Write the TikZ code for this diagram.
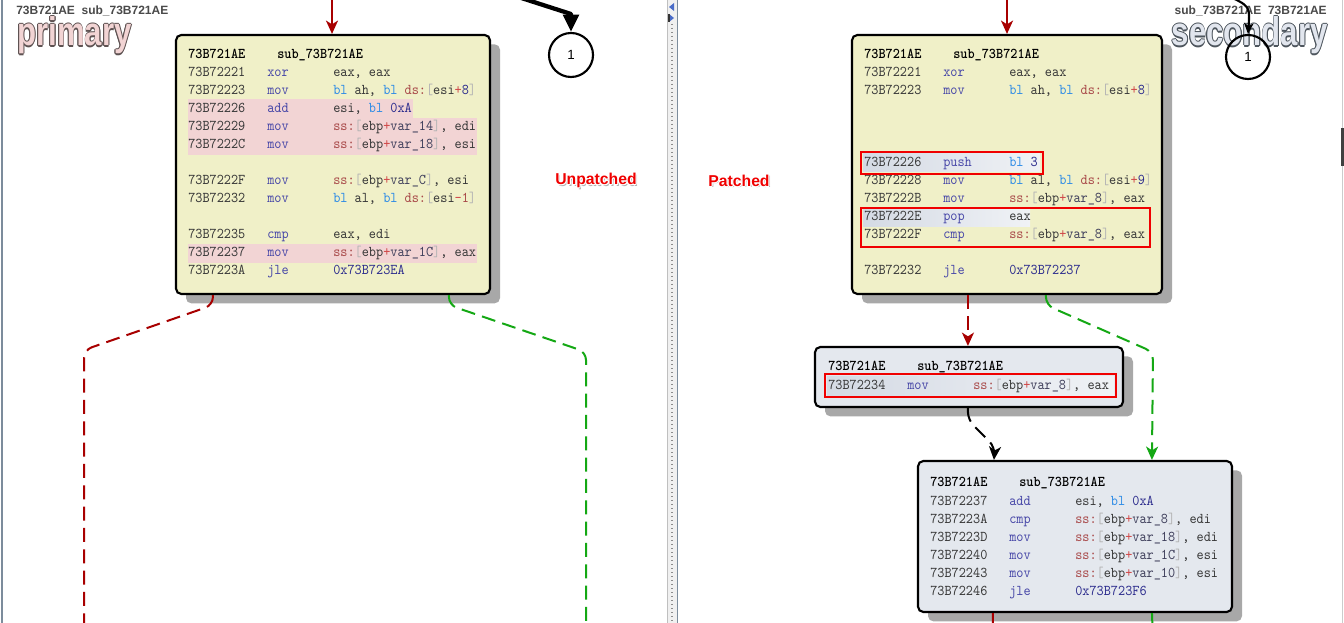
\documentclass[tikz,border=0pt]{standalone}
\usepackage{fontspec}
\setsansfont{Liberation Sans}
\usetikzlibrary{arrows.meta,calc,fit,shadows}

% palette
\definecolor{creamc}{HTML}{F0F0C8}
\definecolor{greyboxc}{HTML}{E4E8EE}
\definecolor{shadowc}{HTML}{A8A8A8}
\definecolor{pinkc}{HTML}{F2D4D4}
\definecolor{addrc}{HTML}{383838}
\definecolor{mnemc}{HTML}{4848A8}
\definecolor{regc}{HTML}{383838}
\definecolor{blc}{HTML}{2E8CE6}
\definecolor{segc}{HTML}{A84848}
\definecolor{brc}{HTML}{B4B4B4}
\definecolor{plc}{HTML}{D04848}
\definecolor{numc}{HTML}{2E2E8E}
\definecolor{varc}{HTML}{40405C}
\definecolor{flowred}{HTML}{A80000}
\definecolor{flowgreen}{HTML}{14A814}
\definecolor{markred}{HTML}{F00000}
\definecolor{panec}{HTML}{7C8C9C}
\definecolor{hlc}{HTML}{D4DAE4}
\definecolor{hdrgray}{HTML}{4A4A4A}
\definecolor{pinkedge}{HTML}{5E5252}
\definecolor{bluefill}{HTML}{E2E6EE}
\definecolor{blueedge}{HTML}{4E565E}
\definecolor{stripc}{HTML}{F0F0F0}
\definecolor{navtri}{HTML}{4A6CC8}

% disassembly text
\newcommand\codefont{\ttfamily\fontsize{10.2}{12}\selectfont}
\newcommand\tall[1]{\scalebox{1}[1.1]{#1}}
\newcommand\kbl{\textcolor{blc}{bl}}
\newcommand\kseg[1]{\textcolor{segc}{#1:}}
\newcommand\kbr[1]{\textcolor{brc}{#1}}
\newcommand\kpl{\textcolor{plc}{+}}
\newcommand\knum[1]{\textcolor{numc}{#1}}
\newcommand\kvar[1]{\textcolor{varc}{var\_#1}}
\newcommand\kmem[2]{\kseg{#1}\kbr{[}#2\kbr{]}}

% outlined lettering
\newlength\olw
\setlength\olw{0.8pt}
\newcommand\olText[3]{%
  \rlap{\kern\olw\textcolor{#1}{#3}}%
  \rlap{\kern-\olw\textcolor{#1}{#3}}%
  \rlap{\raisebox{\olw}{\textcolor{#1}{#3}}}%
  \rlap{\raisebox{-\olw}{\textcolor{#1}{#3}}}%
  \rlap{\kern0.7\olw\raisebox{0.7\olw}{\textcolor{#1}{#3}}}%
  \rlap{\kern-0.7\olw\raisebox{0.7\olw}{\textcolor{#1}{#3}}}%
  \rlap{\kern0.7\olw\raisebox{-0.7\olw}{\textcolor{#1}{#3}}}%
  \rlap{\kern-0.7\olw\raisebox{-0.7\olw}{\textcolor{#1}{#3}}}%
  \textcolor{#2}{#3}}
\newcommand\shText[1]{%
  \rlap{\kern1.2pt\raisebox{-1.2pt}{\textcolor{black!30}{#1}}}%
  \olText{white}{markred}{#1}}

% one instruction line: name, x, row centre y, address, mnemonic, operands
\newcommand\crow[6]{%
  \node[code, text=addrc] (#1-a) at (#2,#3+4) {\tall{#4}};
  \node[code, text=mnemc] (#1-m) at (#2+79,#3+4) {\tall{#5}};
  \node[code, text=regc] (#1-o) at (#2+145,#3+4) {\tall{#6}};
}
% block title line: name, x, row centre y
\newcommand\chead[3]{%
  \node[hdr] (#1-a) at (#2,#3+4) {\tall{73B721AE}};
  \node[hdr] (#1-n) at (#2+89,#3+4) {\tall{sub\_73B721AE}};
}

\begin{document}
\begin{tikzpicture}[x=0.75pt, y=-0.75pt,
  box/.style={draw=black, line width=1.6pt, rounded corners=4pt, inner sep=0pt,
    drop shadow={shadow xshift=7.5pt, shadow yshift=-7pt, fill=shadowc, opacity=1}},
  code/.style={anchor=base west, inner sep=0pt, font=\codefont},
  hdr/.style={code, font=\codefont\bfseries, text=black},
  pinkrow/.style={fill=pinkc, draw=none, inner sep=0pt},
  hlrow/.style={left color=hlc, right color=hlc!35!white, draw=none, inner sep=0pt},
  markbox/.style={draw=markred, line width=1.6pt, inner sep=0pt},
  flow/.style={line width=1.5pt, dash pattern=on 10.5pt off 5.5pt, rounded corners=6pt},
  tip/.style={-{Stealth[length=10pt,width=9pt,inset=2.8pt]}},
  node1/.style={circle, draw=black, line width=1.6pt, minimum size=33pt, inner sep=0pt,
    font=\sffamily\fontsize{10}{10}\selectfont}]

\useasboundingbox (0,0) rectangle (1344,623);
\clip (0,0) rectangle (1344,623);
\fill[white] (0,0) rectangle (1344,623);

% window frame and splitter
\draw[panec, line width=1pt] (2,0) -- (2,623);
\fill[stripc] (667,0) rectangle (677,623);
\draw[black!25, line width=0.5pt] (667,0) -- (667,623);
\draw[black!45, line width=0.9pt, dash pattern=on 0.75pt off 2.25pt] (672,24) -- (672,623);
\draw[panec, line width=1pt] (677.5,0) -- (677.5,623);
\fill[navtri] (669,7) -- (674,3) -- (674,11) -- cycle;
\fill[navtri] (674,18) -- (669,14) -- (669,22) -- cycle;
\fill[black!80] (668,14) rectangle (669.5,22);
\draw[black!20, line width=1pt] (1342.5,0) -- (1342.5,623);
\fill[black!75] (1341,128) rectangle (1344,166);

% pane titles
\node[anchor=west, inner sep=0pt, text=hdrgray,
  font=\sffamily\bfseries\fontsize{9}{10}\selectfont] (lhdr) at (16,11)
  {73B721AE\ \ sub\_73B721AE};
\node[anchor=east, inner sep=0pt, text=hdrgray,
  font=\sffamily\bfseries\fontsize{9}{10}\selectfont] (rhdr) at (1327,11)
  {sub\_73B721AE\ \ 73B721AE};
\node[anchor=base west, inner sep=0pt,
  font=\sffamily\bfseries\fontsize{30}{30}\selectfont] (ptitle) at (17,46)
  {\scalebox{0.78}[1]{\olText{pinkedge}{pinkc}{primary}}};
\node[anchor=base east, inner sep=0pt,
  font=\sffamily\bfseries\fontsize{30}{30}\selectfont] (stitle) at (1328,46)
  {\scalebox{0.78}[1]{\olText{blueedge}{bluefill}{secondary}}};

% off-screen link markers
\node[node1] (c1) at (571,55) {1};
\node[node1] (c2) at (1248,57) {1};

% basic blocks
\node[box, fill=creamc, fit={(176,35) (490,294)}] (lbox) {};
\node[box, fill=creamc, fit={(852,35) (1162,294)}] (rbox1) {};
\node[box, fill=greyboxc, fit={(815,347) (1123,407)}] (rbox2) {};
\node[box, fill=greyboxc, fit={(918,461) (1232,612)}] (rbox3) {};

% changed lines
\node[pinkrow, fit={(188,99) (413,118)}] (pk1) {};
\node[pinkrow, fit={(188,118) (477,155)}] (pk2) {};
\node[pinkrow, fit={(188,244) (477,263)}] (pk3) {};
\node[hlrow, fit={(863,154) (1040,172)}] (hl1) {};
\node[hlrow, fit={(863,209) (1030,227)}] (hl2) {};
\node[hlrow, fit={(827,376) (1114,395)}] (hl3) {};

% primary block
\chead{lh}{188}{55}
\crow{l1}{188}{73}{73B72221}{xor}{eax, eax}
\crow{l2}{188}{91}{73B72223}{mov}{\kbl{} ah, \kbl{} \kmem{ds}{esi\kpl\knum{8}}}
\crow{l3}{188}{109}{73B72226}{add}{esi, \kbl{} \knum{0xA}}
\crow{l4}{188}{127}{73B72229}{mov}{\kmem{ss}{ebp\kpl\kvar{14}}, edi}
\crow{l5}{188}{145}{73B7222C}{mov}{\kmem{ss}{ebp\kpl\kvar{18}}, esi}
\crow{l6}{188}{181}{73B7222F}{mov}{\kmem{ss}{ebp\kpl\kvar{C}}, esi}
\crow{l7}{188}{199}{73B72232}{mov}{\kbl{} al, \kbl{} \kmem{ds}{esi\textcolor{plc}{-}\textcolor{segc}{1}}}
\crow{l8}{188}{235}{73B72235}{cmp}{eax, edi}
\crow{l9}{188}{253}{73B72237}{mov}{\kmem{ss}{ebp\kpl\kvar{1C}}, eax}
\crow{l10}{188}{271}{73B7223A}{jle}{\knum{0x73B723EA}}

% secondary block, first part
\chead{ah}{864}{55}
\crow{a1}{864}{73}{73B72221}{xor}{eax, eax}
\crow{a2}{864}{91}{73B72223}{mov}{\kbl{} ah, \kbl{} \kmem{ds}{esi\kpl\knum{8}}}
\crow{a3}{864}{163}{73B72226}{push}{\kbl{} \knum{3}}
\crow{a4}{864}{181}{73B72228}{mov}{\kbl{} al, \kbl{} \kmem{ds}{esi\kpl\knum{9}}}
\crow{a5}{864}{199}{73B7222B}{mov}{\kmem{ss}{ebp\kpl\kvar{8}}, eax}
\crow{a6}{864}{217}{73B7222E}{pop}{eax}
\crow{a7}{864}{235}{73B7222F}{cmp}{\kmem{ss}{ebp\kpl\kvar{8}}, eax}
\crow{a8}{864}{271}{73B72232}{jle}{\knum{0x73B72237}}

% secondary block, inserted store
\chead{bh}{828}{366}
\crow{b1}{828}{385}{73B72234}{mov}{\kmem{ss}{ebp\kpl\kvar{8}}, eax}

% secondary block, join
\chead{ch}{930}{482}
\crow{c1r}{930}{501}{73B72237}{add}{esi, \kbl{} \knum{0xA}}
\crow{c2r}{930}{519}{73B7223A}{cmp}{\kmem{ss}{ebp\kpl\kvar{8}}, edi}
\crow{c3r}{930}{537}{73B7223D}{mov}{\kmem{ss}{ebp\kpl\kvar{18}}, edi}
\crow{c4r}{930}{555}{73B72240}{mov}{\kmem{ss}{ebp\kpl\kvar{1C}}, esi}
\crow{c5r}{930}{573}{73B72243}{mov}{\kmem{ss}{ebp\kpl\kvar{10}}, esi}
\crow{c6r}{930}{591}{73B72246}{jle}{\knum{0x73B723F6}}

% patch markers
\node[markbox, fit={(861,152) (1043,174)}] (m1) {};
\node[markbox, fit={(861,208) (1150,247)}] (m2) {};
\node[markbox, fit={(825,374) (1116,397)}] (m3) {};

% captions
\node[inner sep=0pt, font=\sffamily\bfseries\fontsize{11.8}{12}\selectfont] (unp) at (596,181) {\shText{Unpatched}};
\node[inner sep=0pt, font=\sffamily\bfseries\fontsize{11.8}{12}\selectfont] (pat) at (739,181) {\shText{Patched}};

% incoming edges
\coordinate (ltop) at (332,-5);
\coordinate (rtop) at (1007,-5);
\draw[flowred, line width=1.5pt, tip] (ltop) -- (lbox.north -| ltop);
\draw[flowred, line width=1.5pt, tip] (rtop) -- (rbox1.north -| rtop);
\coordinate (k1) at (512,-5);
\draw[line width=3.2pt, line join=round, -{Triangle[length=13pt,width=11.5pt]}]
  (k1) -- (571,14) -- (c1.north);
\coordinate (k2) at (1226,-5);
\draw[line width=1.6pt, -{Stealth[length=8pt,width=7pt,inset=2pt]}]
  (k2) .. controls (1250,6) .. (c2.north);

% primary edges
\coordinate (lredEnd) at (84,640);
\coordinate (lgreenEnd) at (586,640);
\draw[flow, flowred] ($(lbox.south west)+(38,0)$) -- ++(0,10) -- (84,350) -- (lredEnd);
\draw[flow, flowgreen] ($(lbox.south west)+(274,0)$) -- ++(0,10) -- (586,352) -- (lgreenEnd);

% secondary edges
\draw[flow, flowred, tip] ($(rbox1.south west)+(117,0)$) -- ($(rbox2.north west)+(154,0)$);
\draw[flow, flowgreen, tip] ($(rbox1.south west)+(195,0)$) -- ++(0,10) -- (1153,352)
  -- ($(rbox3.north west)+(235,0)$);
\draw[flow, black, tip] ($(rbox2.south west)+(154,0)$) -- ++(0,12) -- (995,447)
  -- ($(rbox3.north west)+(77,0)$);
\coordinate (rredEnd) at (993,640);
\coordinate (rgreenEnd) at (1153,640);
\draw[flow, flowred] ($(rbox3.south west)+(76,0)$) -- (rredEnd);
\draw[flow, flowgreen] ($(rbox3.south west)+(235,0)$) -- (rgreenEnd);

\end{tikzpicture}
\end{document}
